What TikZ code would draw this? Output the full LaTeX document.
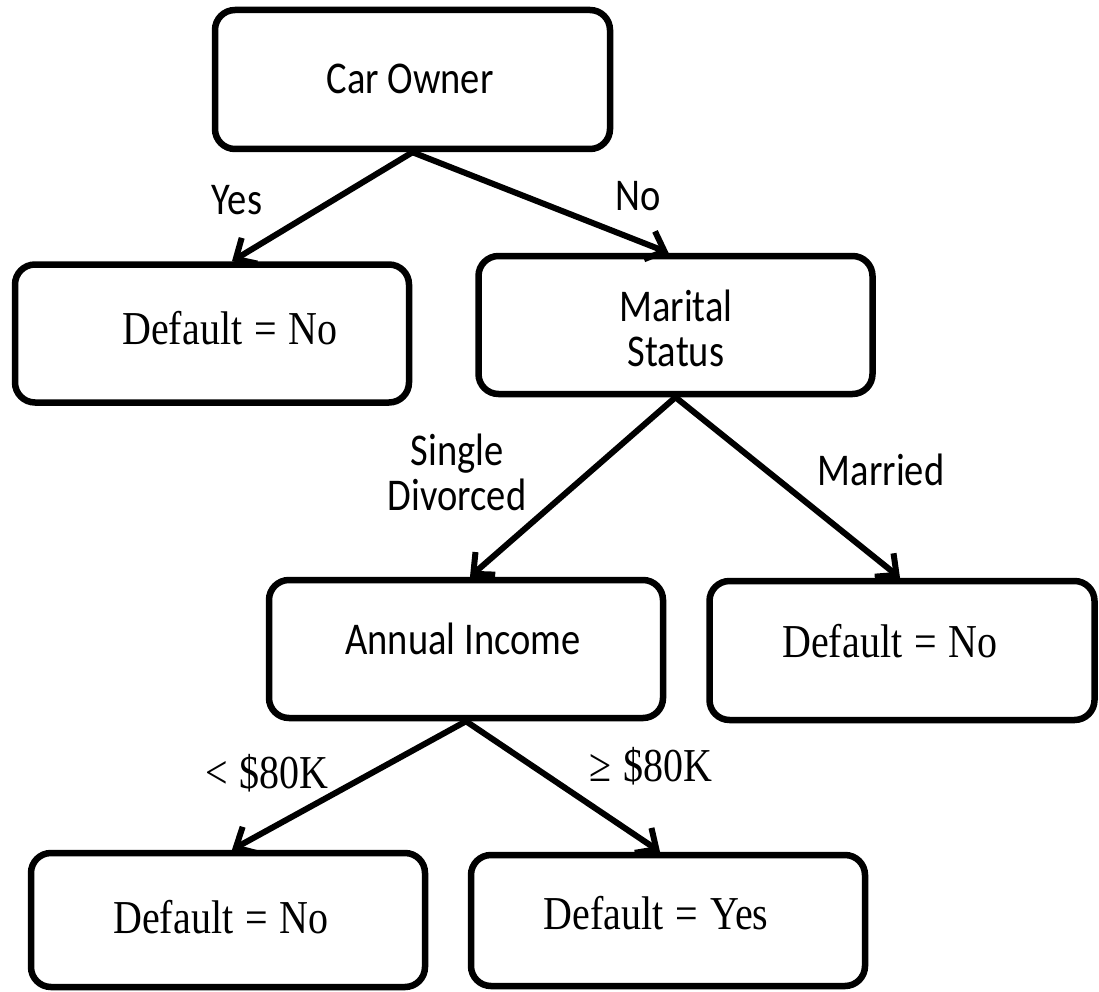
\documentclass[tikz,border=0pt]{standalone}
\usepackage{fontspec}
\setmainfont{Carlito}
\newfontfamily\mathserif{Liberation Serif}
\usetikzlibrary{arrows.meta}
\newcommand{\eqgap}{\hspace{0.3em}}
\newcommand{\tall}[1]{\scalebox{1}[1.18]{#1}}
\begin{document}
\begin{tikzpicture}[x=1pt,y=-1pt,
  box/.style={draw, line width=6.5pt, rounded corners=20pt,
    minimum width=394pt, minimum height=138pt, inner sep=0pt},
  sanslabel/.style={font=\fontsize{38.5}{45}\selectfont, inner sep=0pt, align=center},
  seriflabel/.style={font=\mathserif\fontsize{40}{45}\selectfont, inner sep=0pt},
  edge/.style={line width=6pt, line cap=round,
    -{Straight Barb[length=16pt, width=30pt, line width=6pt]}}
]
\useasboundingbox (0,0) rectangle (1099,992);

% decision boxes
\node[box, minimum width=395pt, minimum height=139pt] (b1) at (412.5,79.5) {};
\node[box] (b2) at (212,333.5) {};
\node[box] (b3) at (675.5,325) {};
\node[box] (b4) at (466,649) {};
\node[box, minimum width=385pt, minimum height=139pt] (b5) at (902,650.5) {};
\node[box, minimum height=134pt] (b6) at (228,920) {};
\node[box, minimum height=131pt] (b7) at (668,920.5) {};

% box texts
\node[sanslabel] (t1) at (410,79) {\tall{Car Owner}};
\node[seriflabel] (t2) at (230,328) {\tall{Default\eqgap=\eqgap No}};
\node[sanslabel] (t3) at (676,328) {\tall{Marital}\\\tall{Status}};
\node[sanslabel] (t4) at (463,639) {\tall{Annual Income}};
\node[seriflabel] (t5) at (890,641) {\tall{Default\eqgap=\eqgap No}};
\node[seriflabel] (t6) at (221,917) {\tall{Default\eqgap=\eqgap No}};
\node[seriflabel] (t7) at (656,913) {\tall{Default\eqgap=\eqgap Yes}};

% branch labels
\node[sanslabel] (lyes) at (237,200) {\tall{Yes}};
\node[sanslabel] (lno) at (638,196) {\tall{No}};
\node[sanslabel] (lsingle) at (457,472) {\tall{Single}\\\tall{Divorced}};
\node[sanslabel] (lmarried) at (881,470) {\tall{Married}};
\node[seriflabel] (llow) at (267,773) {\tall{<\eqgap\$80K}};
\node[seriflabel] (lhigh) at (651,766) {\tall{≥\eqgap\$80K}};

% branches
\draw[edge] (b1.south) -- ([xshift=20pt]b2.north);
\draw[edge] (b1.south) -- ([xshift=-7pt]b3.north);
\draw[edge] (b3.south) -- ([xshift=4pt]b4.north);
\draw[edge] (b3.south) -- ([xshift=-2pt]b5.north);
\draw[edge] (b4.south) -- ([xshift=4pt]b6.north);
\draw[edge] (b4.south) -- ([xshift=-8pt]b7.north);
\end{tikzpicture}
\end{document}
